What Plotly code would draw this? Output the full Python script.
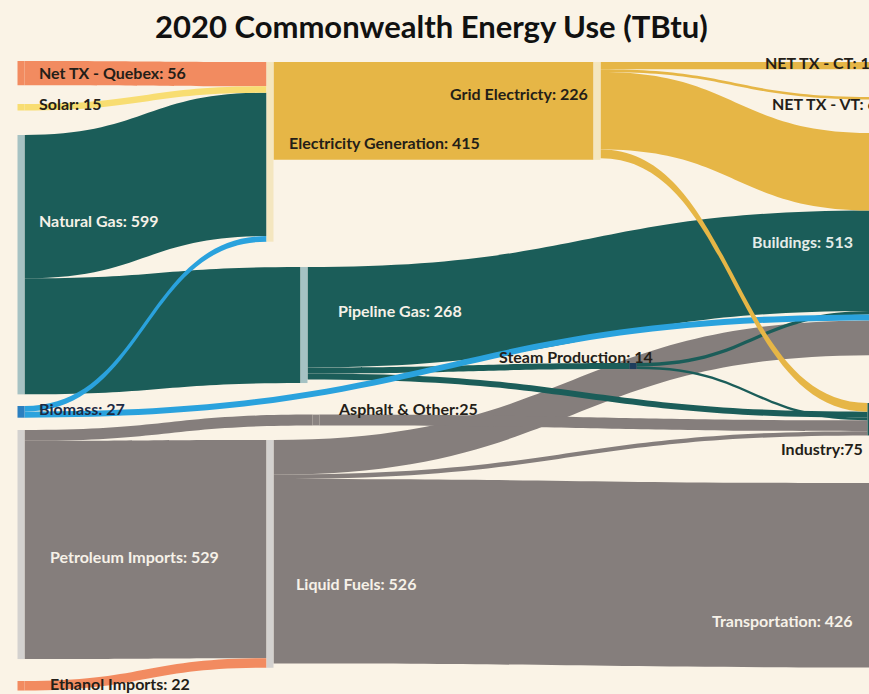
import plotly.graph_objects as go

# ---------------- data ----------------
node_names = ["Net TX - Quebec", "Solar", "Natural Gas", "Biomass", "Petroleum Imports",
              "Ethanol Imports", "Electricity Generation", "Pipeline Gas", "Asphalt & Other",
              "Liquid Fuels", "Grid Electricity", "Steam Production", "Buildings", "Industry",
              "Transportation", "NET TX - CT", "NET TX - VT"]
node_totals = [56, 15, 599, 27, 529, 22, 415, 268, 25, 526, 226, 14, 513, 75, 426, 17, 6]
label_texts = ["Net TX - Quebex: 56", "Solar: 15", "Natural Gas: 599", "Biomass: 27",
               "Petroleum Imports: 529", "Ethanol Imports: 22", "Electricity Generation: 415",
               "Pipeline Gas: 268", "Asphalt & Other:25", "Liquid Fuels: 526",
               "Grid Electricty: 226", "Steam Production: 14", "Buildings: 513", "Industry:75",
               "Transportation: 426", "NET TX - CT: 17", "NET TX - VT: 6"]

# links (source, target, value) by node index
link_source = [4, 4, 9, 9, 9, 8, 2, 2, 7, 7, 7, 11, 11, 0, 1, 5, 3, 3, 6, 10, 10, 10, 10]
link_target = [9, 8, 14, 12, 13, 13, 6, 7, 12, 11, 13, 12, 13, 6, 6, 9, 6, 12, 10, 15, 16, 12, 13]
link_value = [504, 25, 426, 80, 10, 25, 331, 268, 232, 14, 14, 8, 6, 56, 15, 22, 13, 14, 226, 17, 6, 179, 20]

title_text = "2020 Commonwealth Energy Use (TBtu)"

# ---------------- layout / style ----------------
W, H = 869, 694
BG = "#FAF3E6"
KY = 0.433  # px per TBtu
col0_total = sum(node_totals[:6])
pad = (H - KY * col0_total) / 5.0

node_cx = [21, 21, 21, 21, 21, 21, 270, 304, 316, 270, 597, 633, 875, 871, 875, 875, 875]
node_top = [61, 104, 135, 406, 430, 681, 62, 267, 414.6, 440, 62, 363, 133, 403, 483, 62, 97]
node_x = [cx / W for cx in node_cx]
node_y = [(t + v * KY / 2.0) / H for t, v in zip(node_top, node_totals)]

ORANGE = "#F28B60"
SOLAR = "#F8DD72"
TEAL = "#1B5D59"
BLUE = "#2AA2DD"
GRAY = "#857E7C"
GOLD = "#E6B646"

node_colors = [ORANGE, SOLAR, "#A6C2C3", "#2A7FC0", "#D3D1CF", ORANGE, "#F4E6BF", "#A6C2C3",
               "#8A8381", "#D3D1CF", "#F4E6BF", "#1D3D5C", TEAL, TEAL, GRAY, GOLD, GOLD]

src_color = {0: ORANGE, 1: SOLAR, 2: TEAL, 3: BLUE, 4: GRAY, 5: ORANGE, 6: GOLD, 7: TEAL,
             8: GRAY, 9: GRAY, 10: GOLD, 11: TEAL}
link_colors = [src_color[s] for s in link_source]

fig = go.Figure(go.Sankey(
    arrangement="fixed",
    domain=dict(x=[0, 1], y=[0, 1]),
    node=dict(
        label=[""] * len(node_names),
        customdata=node_names,
        hovertemplate="%{customdata}: %{value}<extra></extra>",
        x=node_x, y=node_y,
        pad=pad, thickness=7,
        color=node_colors,
        line=dict(width=0),
    ),
    link=dict(
        source=link_source, target=link_target, value=link_value,
        color=link_colors,
    ),
))

DARK = "#241E18"
LIGHT = "#F6F1E8"
# (label index, x px, center y px, color, anchor)
label_pos = [
    (0, 37, 73, DARK, "left"), (1, 37, 104, DARK, "left"), (2, 37, 220, LIGHT, "left"),
    (3, 37, 408, "#1C2B45", "left"), (4, 48, 556, LIGHT, "left"), (5, 48, 683, DARK, "left"),
    (6, 287, 143, DARK, "left"), (7, 336, 310, LIGHT, "left"), (8, 336, 408, DARK, "left"),
    (9, 294, 583, LIGHT, "left"), (10, 590, 93, DARK, "right"), (11, 497, 356, DARK, "left"),
    (12, 750, 241, "#E4ECE8", "left"), (13, 779, 448, DARK, "left"),
    (14, 710, 620, LIGHT, "left"), (15, 763, 62, DARK, "left"), (16, 770, 103, DARK, "left"),
]
annotations = []
for idx, lx, ly, col, anc in label_pos:
    annotations.append(dict(
        text=label_texts[idx], x=lx / W, y=1 - ly / H, xref="paper", yref="paper",
        xanchor=anc, yanchor="middle", showarrow=False,
        font=dict(family="Lato", size=16, color=col, weight="bold"),
    ))
annotations.append(dict(
    text=title_text, x=431.5 / W, y=1 - 26 / H, xref="paper", yref="paper",
    xanchor="center", yanchor="middle", showarrow=False,
    font=dict(family="Lato", size=31, color="#111111", weight="bold"),
))

fig.update_layout(
    width=W, height=H,
    margin=dict(l=0, r=0, t=0, b=0),
    paper_bgcolor=BG,
    plot_bgcolor=BG,
    annotations=annotations,
)

fig.write_html(
    "out.html",
    config={"displayModeBar": False},
    post_script="document.body.style.margin='0';document.body.style.background='%s';" % BG,
)
